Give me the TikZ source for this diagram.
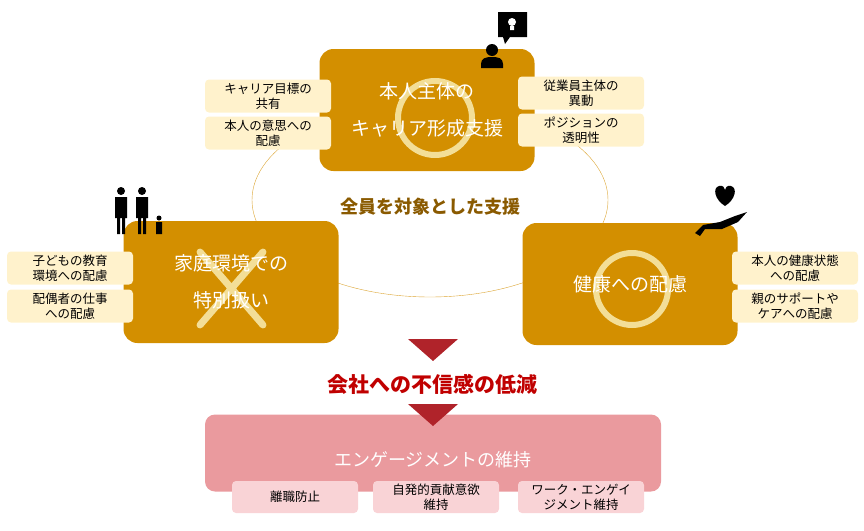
\documentclass[tikz,border=0pt]{standalone}
\usepackage{fontspec}
\setmainfont{Noto Sans CJK JP}
\usetikzlibrary{positioning}
\definecolor{gold}{HTML}{D38F00}
\definecolor{ring}{HTML}{F3DE97}
\definecolor{cream}{HTML}{FFF2CC}
\definecolor{brownt}{HTML}{8A5A00}
\definecolor{redt}{HTML}{C00000}
\definecolor{tri}{HTML}{B0232A}
\definecolor{pinkb}{HTML}{EA9A9E}
\definecolor{pinks}{HTML}{F9D3D6}
\tikzset{
  mainbox/.style={fill=gold,rounded corners=14pt,minimum width=215pt,minimum height=122pt},
  maintext/.style={text=white,font=\fontsize{19}{37}\selectfont,align=center},
  tagbox/.style={fill=cream,rounded corners=4pt,minimum width=126pt,minimum height=33pt,font=\fontsize{12.5}{15}\selectfont,align=center,inner sep=1pt},
  pinktag/.style={fill=pinks,rounded corners=4pt,minimum width=126pt,minimum height=32pt,font=\fontsize{12.5}{15}\selectfont,align=center,inner sep=1pt},
}
\begin{document}
\begin{tikzpicture}[x=1pt,y=-1pt]
\useasboundingbox (0,0) rectangle (864,530);
% ellipse behind
\draw[gold!80,thin] (430,200) ellipse (178 and 97);
% main boxes
\node[mainbox] (career) at (427,110) {};
\node[mainbox] (family) at (231,282) {};
\node[mainbox] (health) at (630,284) {};
\draw[ring,line width=6pt] (435,118) circle (37);
\draw[ring,line width=6pt] (632,289) circle (36);
\draw[ring,line width=7pt,line cap=round] (200,252) -- (263,325) (263,252) -- (200,325);
\node[maintext] at (career) {本人主体の\\キャリア形成支援};
\node[maintext] at (family) {家庭環境での\\特別扱い};
\node[maintext] at (health) {健康への配慮};
\node[text=brownt,font=\fontsize{18}{20}\selectfont\bfseries] (all) at (430,207) {全員を対象とした支援};
% tags
\node[tagbox] (goal) at (268,96) {キャリア目標の\\共有};
\node[tagbox] (will) at (268,133) {本人の意思への\\配慮};
\node[tagbox] (move) at (581,93) {従業員主体の\\異動};
\node[tagbox] (post) at (581,130) {ポジションの\\透明性};
\node[tagbox] (child) at (70,268) {子どもの教育\\環境への配慮};
\node[tagbox] (spouse) at (70,306) {配偶者の仕事\\への配慮};
\node[tagbox] (self) at (795,268) {本人の健康状態\\への配慮};
\node[tagbox] (parent) at (795,306) {親のサポートや\\ケアへの配慮};
% arrows and result
\node[fill=pinkb,rounded corners=10pt,minimum width=456pt,minimum height=77pt] (engage) at (433,453) {};
\fill[tri] (408,339) -- (458,339) -- (433,361) -- cycle;
\node[text=redt,font=\fontsize{21}{24}\selectfont\bfseries] (trust) at (432,384) {会社への不信感の低減};
\fill[tri] (408,404) -- (458,404) -- (433,426) -- cycle;
\node[text=white,font=\fontsize{18}{20}\selectfont] at (433,460) {エンゲージメントの維持};
\node[pinktag] (quit) at (295,497) {離職防止};
\node[pinktag] (contrib) at (436,497) {自発的貢献意欲\\維持};
\node[pinktag] (work) at (581,497) {ワーク・エンゲイ\\ジメント維持};
% icons
\fill[black] (498,12) rectangle (527,37) (503,37) -- (510,37) -- (505,44) -- cycle;
\fill[white] (512,22) circle (4) (510,26) rectangle (514,30);
\fill[black] (492,50) circle (6);
\fill[black] (481,68) -- (481,64) .. controls (481,58) and (486,57) .. (492,57) .. controls (498,57) and (503,58) .. (503,64) -- (503,68) -- cycle;
\foreach \px in {121,142} {
  \fill[black] (\px,191) circle (4);
  \fill[black] (\px-6,197) rectangle (\px+6,218) (\px-4,218) rectangle (\px-1,234) (\px+1,218) rectangle (\px+4,234);
}
\fill[black] (159,218) circle (2.5) (156,222) rectangle (162,234);
\fill[black] (725,206) .. controls (715,200) and (712,188) .. (719,186) .. controls (723,185) and (725,188) .. (725,190)
  .. controls (725,188) and (727,185) .. (731,186) .. controls (738,188) and (735,200) .. (725,206) -- cycle;
\fill[black] (695,233) -- (703,225) -- (720,222) -- (735,216) -- (747,212) -- (738,222) -- (722,229) -- (705,229) -- (700,236) -- cycle;
\end{tikzpicture}
\end{document}
